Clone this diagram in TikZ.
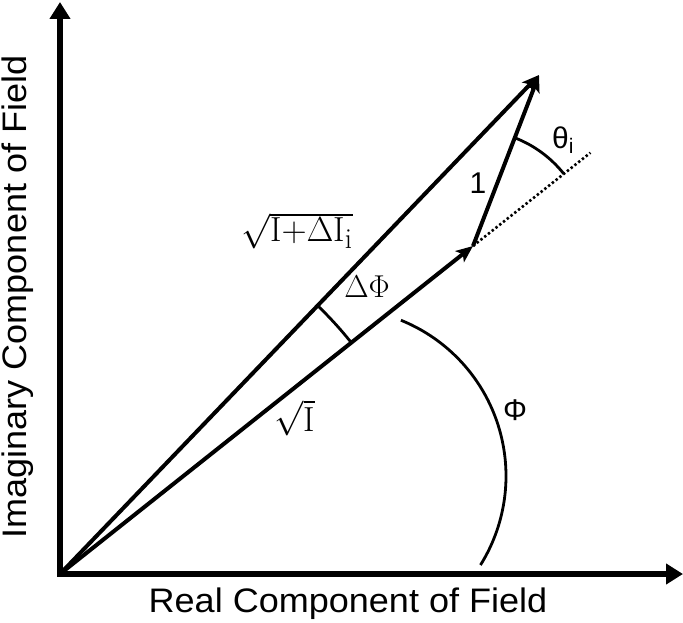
\RequirePackage{fix-cm}
\documentclass[tikz,border=0pt]{standalone}
\usepackage{fontspec}
\newfontfamily\arial{Liberation Sans}
\usetikzlibrary{arrows.meta,calc}
\begin{document}
\begin{tikzpicture}[x=1pt,y=-1pt,
  axis/.style={line width=5.5pt, line join=miter,
    {Triangle[length=17pt,width=20pt]}-{Triangle[length=17pt,width=20pt]}},
  vec/.style={line width=4pt, -{Stealth[length=17pt,width=14pt,inset=4pt]}},
  arcline/.style={line width=2.8pt},
  dotline/.style={line width=2.6pt, dash pattern=on 2.4pt off 2.4pt},
  axlabel/.style={font=\arial\fontsize{34}{40}\selectfont, inner sep=0pt},
  mlabel/.style={font=\Huge, scale=1.27, inner sep=0pt},
  rlabel/.style={font=\Huge, scale=1.4, inner sep=0pt},
  slabel/.style={font=\arial\fontsize{30}{34}\selectfont, inner sep=0pt}]
\useasboundingbox (0,0) rectangle (683,623);
\coordinate (O) at (60,574);
\coordinate (X) at (683,574);
\coordinate (Y) at (60,2);
\coordinate (A) at (473,246);
\coordinate (B) at (539,75);
\coordinate (E) at ($(A)+(-38.46:150)$);
\coordinate (C) at (338,476);
% axes
\draw[axis] (Y) -- (O) -- (X);
% vectors
\draw[dotline] (A) -- (E);
\draw[vec] (O) -- (A);
\draw[vec] (O) -- (B);
\draw[vec] (A) -- (B);
% arcs
\draw[arcline] ($(O)+(-38.46:372)$) arc[start angle=-38.46, end angle=-46.17, radius=372];
\draw[arcline] ($(A)+(-38.46:116)$) arc[start angle=-38.46, end angle=-68.9, radius=116];
\draw[arcline] ($(C)+(-68:168)$) arc[start angle=-68, end angle=32, radius=168];
% labels
\node[rlabel] (lR) at (297,231) {$\sqrt{\mathrm{I}{+}\Delta\mathrm{I}_{\mathrm{i}}}$};
\node[rlabel] (lI) at (295,418) {$\sqrt{\mathrm{I}}$};
\node[mlabel] (ldp) at (367,287) {$\Delta\Phi$};
\node[slabel] (lp) at (515,410) {Φ};
\node[slabel] (lt) at (563,140) {θ\textsubscript{i}};
\node[slabel] (l1) at (478,183) {1};
\node[axlabel, anchor=base] (lx) at (348,612) {\scalebox{1.06}[1]{Real Component of Field}};
\node[axlabel, anchor=base, rotate=90] (ly) at (27,297) {\scalebox{1.06}[1]{Imaginary Component of Field}};
\end{tikzpicture}
\end{document}
